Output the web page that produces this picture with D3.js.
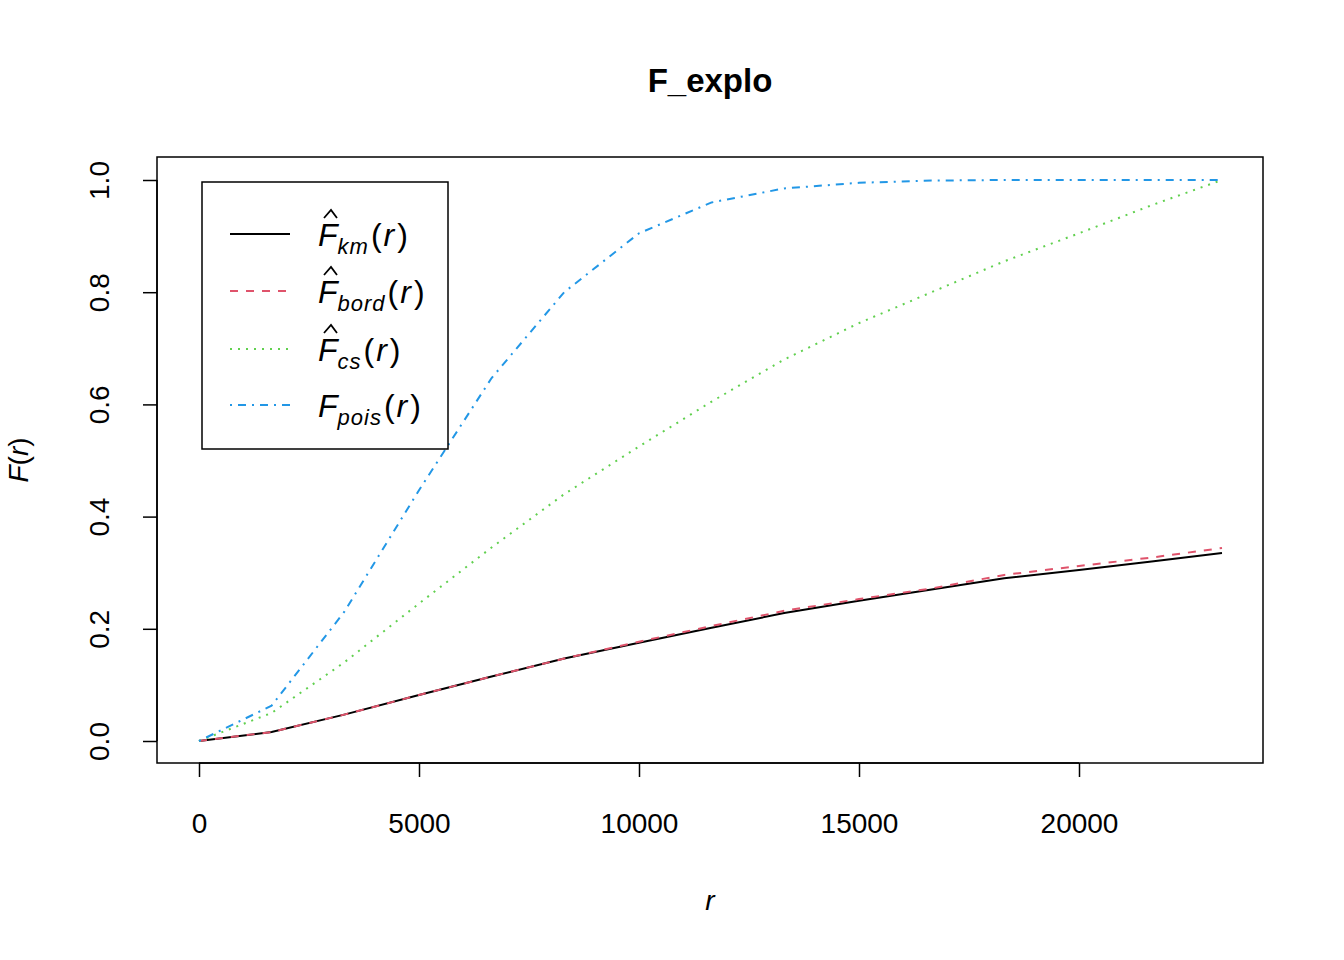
<!DOCTYPE html>
<html><head><meta charset="utf-8">
<script src="https://cdn.jsdelivr.net/npm/d3@7"></script>
<style>body{margin:0;background:#fff}text{font-family:"Liberation Sans",Arial,sans-serif}</style>
</head><body>
<script>
// r values and estimated F curves
var rVals=[0,1650,3300,5000,6650,8300,10000,11650,13300,15000,16650,18300,20000,21650,23250];
var km  =[0,0.016,0.047,0.082,0.115,0.147,0.175,0.202,0.228,0.250,0.270,0.290,0.305,0.320,0.335];
var bord=[0,0.016,0.047,0.082,0.115,0.147,0.177,0.205,0.232,0.253,0.272,0.296,0.312,0.327,0.344];
var cs  =[0,0.050,0.140,0.245,0.345,0.440,0.525,0.605,0.680,0.745,0.800,0.855,0.905,0.955,1.000];
var pois=[0,0.063,0.230,0.447,0.647,0.800,0.905,0.960,0.985,0.995,0.999,1.000,1.000,1.000,1.000];
var xTicks=[0,5000,10000,15000,20000];
var yTicks=[0,0.2,0.4,0.6,0.8,1.0];
var series=[
 {y:km,col:"#000000",dash:null,sub:"km",hat:true},
 {y:bord,col:"#DF536B",dash:"8,8",sub:"bord",hat:true},
 {y:cs,col:"#61D04F",dash:"2,6",sub:"cs",hat:true},
 {y:pois,col:"#2297E6",dash:"2,6,8,6",sub:"pois",hat:false}
];

var W=1344,H=960;
var svg=d3.select("body").append("svg").attr("width",W).attr("height",H);
var x=d3.scaleLinear().domain([0,20000]).range([199,1079]);
var y=d3.scaleLinear().domain([0,1]).range([741,180]);

svg.append("rect").attr("x",157).attr("y",157).attr("width",1106).attr("height",606)
  .attr("fill","none").attr("stroke","#000").attr("stroke-width",1.5);

var xa=svg.append("g").attr("transform","translate(0,763)")
  .call(d3.axisBottom(x).tickValues(xTicks).tickSize(14).tickPadding(36).tickFormat(d3.format("d")));
var ya=svg.append("g").attr("transform","translate(157,0)")
  .call(d3.axisLeft(y).tickValues(yTicks).tickSize(14).tickFormat(d3.format(".1f")));
[xa,ya].forEach(function(a){
  a.select(".domain").attr("stroke-width",1.5);
  a.selectAll(".tick line").attr("stroke-width",1.5);
  a.selectAll("text").attr("font-size",28).attr("fill","#000").attr("font-family","Liberation Sans, Arial, sans-serif");
});
xa.select(".domain").attr("d","M"+x(0)+",0H"+x(20000));
ya.select(".domain").attr("d","M0,"+y(0)+"V"+y(1));
ya.selectAll(".tick text").attr("transform","rotate(-90)").attr("text-anchor","middle")
  .attr("x",0).attr("dy",0).attr("y",-48);

var line=d3.line().x(function(d){return x(d[0]);}).y(function(d){return y(d[1]);});
series.forEach(function(s){
  svg.append("path").attr("d",line(rVals.map(function(r,i){return [r,s.y[i]];})))
    .attr("fill","none").attr("stroke",s.col).attr("stroke-width",2)
    .attr("stroke-dasharray",s.dash);
});

svg.append("text").attr("x",710).attr("y",92).attr("text-anchor","middle")
  .attr("font-size",33).attr("font-weight","bold").text("F_explo");
svg.append("text").attr("x",710).attr("y",910).attr("text-anchor","middle")
  .attr("font-size",28).attr("font-style","italic").text("r");
var yl=svg.append("text").attr("transform","translate(28,460) rotate(-90)")
  .attr("text-anchor","middle").attr("font-size",28);
yl.append("tspan").attr("font-style","italic").text("F");
yl.append("tspan").text("(");
yl.append("tspan").attr("font-style","italic").text("r");
yl.append("tspan").text(")");

// legend
svg.append("rect").attr("x",202).attr("y",182).attr("width",246).attr("height",267)
  .attr("fill","#fff").attr("stroke","#000").attr("stroke-width",1.5);
var ly=[234,291,349,405];
series.forEach(function(s,i){
  svg.append("line").attr("x1",230).attr("x2",290).attr("y1",ly[i]).attr("y2",ly[i])
    .attr("stroke",s.col).attr("stroke-width",2).attr("stroke-dasharray",s.dash);
  var t=svg.append("text").attr("x",318).attr("y",ly[i]+12).attr("font-size",32);
  t.append("tspan").attr("font-style","italic").text("F");
  t.append("tspan").attr("font-style","italic").attr("font-size",22).attr("dy",8)
    .attr("letter-spacing",1).text(s.sub);
  t.append("tspan").attr("dy",-8).attr("dx",2).text("(");
  t.append("tspan").attr("font-style","italic").attr("dx",2).text("r");
  t.append("tspan").attr("dx",3).text(")");
  if(s.hat) svg.append("path")
    .attr("d","M324,"+(ly[i]-16)+"L331,"+(ly[i]-24)+"L337,"+(ly[i]-16))
    .attr("fill","none").attr("stroke","#000").attr("stroke-width",1.8);
});
</script>
</body></html>
